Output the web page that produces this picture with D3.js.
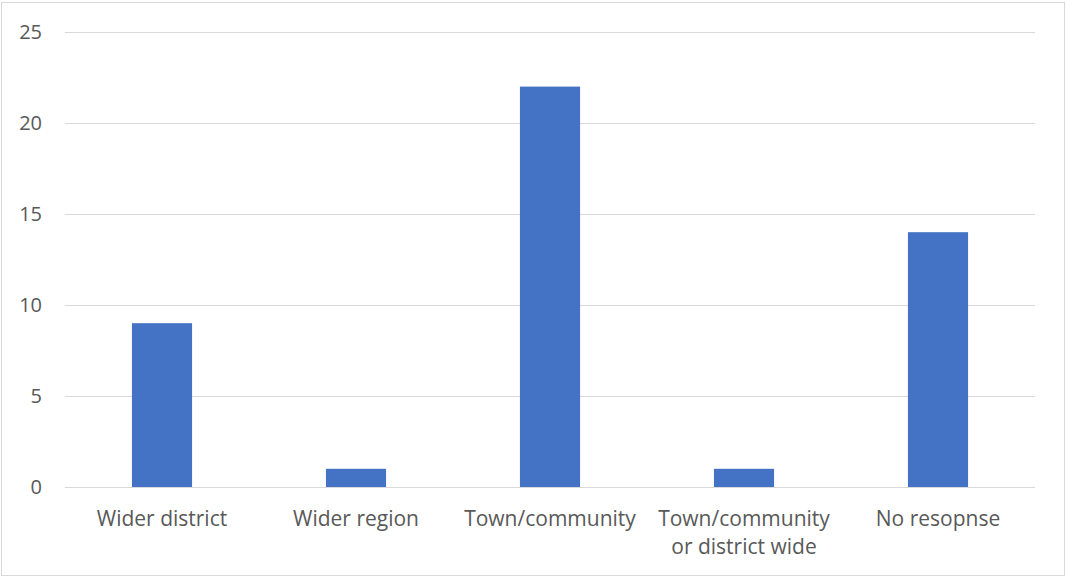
<!DOCTYPE html>
<html>
<head>
<meta charset="utf-8">
<script src="https://cdn.jsdelivr.net/npm/d3@7"></script>
<style>
  body { margin: 0; background: #fff; }
  svg { display: block; font-family: "Open Sans", "Liberation Sans", sans-serif; }
</style>
</head>
<body>
<svg width="1066" height="577"></svg>
<script>
const categories = ["Wider district", "Wider region", "Town/community", "Town/community\nor district wide", "No resopnse"];
const counts = [9, 1, 22, 1, 14];
const yTicks = [0, 5, 10, 15, 20, 25];

const svg = d3.select("svg");
const margin = { left: 65, right: 31, top: 32, bottom: 90 };
const width = 1066, height = 577;

// outer frame
svg.append("rect")
    .attr("x", 1.5).attr("y", 2.5)
    .attr("width", width - 3).attr("height", height - 4)
    .attr("fill", "#fff")
    .attr("stroke", "#d9d9d9");

const x = d3.scaleBand()
    .domain(categories)
    .range([margin.left, width - margin.right])
    .paddingInner(0.69)
    .paddingOuter(0.345);

const y = d3.scaleLinear()
    .domain([0, 25])
    .range([height - margin.bottom, margin.top]);

// gridlines
svg.append("g")
    .selectAll("line")
    .data(yTicks)
    .enter()
    .append("line")
    .attr("x1", margin.left)
    .attr("x2", width - margin.right)
    .attr("y1", d => Math.round(y(d)) + 0.5)
    .attr("y2", d => Math.round(y(d)) + 0.5)
    .attr("stroke", "#d9d9d9")
    .attr("stroke-width", 1);

// y tick labels
svg.append("g")
    .selectAll("text")
    .data(yTicks)
    .enter()
    .append("text")
    .attr("x", 42)
    .attr("y", d => y(d))
    .attr("dy", "0.35em")
    .attr("text-anchor", "end")
    .attr("fill", "#595959")
    .attr("font-size", 20)
    .text(d => d);

// bars
svg.append("g")
    .selectAll("rect")
    .data(counts)
    .enter()
    .append("rect")
    .attr("x", (d, i) => x(categories[i]))
    .attr("width", x.bandwidth())
    .attr("y", d => y(d))
    .attr("height", d => y(0) - y(d))
    .attr("fill", "#4472c4");

// category labels
const labels = svg.append("g")
    .selectAll("text")
    .data(categories)
    .enter()
    .append("text")
    .attr("x", d => x(d) + x.bandwidth() / 2)
    .attr("y", 526)
    .attr("text-anchor", "middle")
    .attr("fill", "#595959")
    .attr("font-size", 21);

labels.selectAll("tspan")
    .data(d => d.split("\n"))
    .enter()
    .append("tspan")
    .attr("x", function () { return d3.select(this.parentNode).attr("x"); })
    .attr("dy", (d, i) => i === 0 ? 0 : 28)
    .text(d => d);
</script>
</body>
</html>
